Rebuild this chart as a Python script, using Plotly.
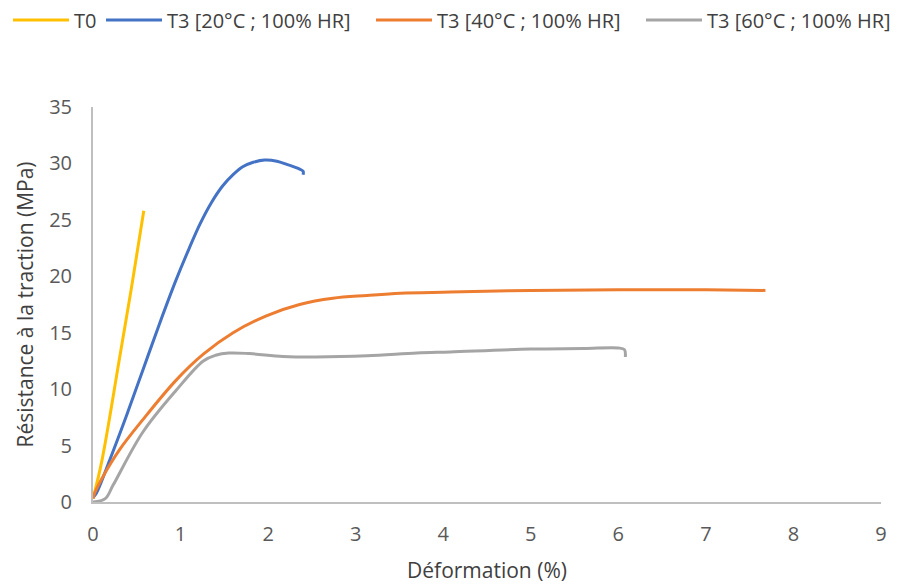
import plotly.graph_objects as go

# Data (strain %, stress MPa)
t0_x = [0.0, 0.1, 0.3, 0.45, 0.58]
t0_y = [0.3, 3.6, 12.6, 19.5, 25.8]

t20_x = [0.0, 0.04, 0.19, 0.38, 0.57, 0.76, 0.95, 1.1, 1.22, 1.35, 1.48, 1.6, 1.71, 1.83, 1.96, 2.1, 2.22, 2.36, 2.4, 2.4]
t20_y = [0.4, 0.8, 3.7, 7.6, 11.7, 15.8, 19.7, 22.5, 24.6, 26.5, 28.0, 29.0, 29.7, 30.1, 30.3, 30.2, 29.9, 29.5, 29.3, 29.0]

t40_x = [0.0, 0.02, 0.11, 0.3, 0.57, 0.95, 1.26, 1.6, 1.98, 2.36, 2.74, 3.13, 3.51, 4.08, 5.0, 6.0, 7.0, 7.68]
t40_y = [0.3, 0.8, 2.2, 4.6, 7.3, 10.8, 13.1, 15.0, 16.5, 17.5, 18.05, 18.3, 18.5, 18.6, 18.75, 18.8, 18.8, 18.75]

t60_x = [0.0, 0.14, 0.23, 0.57, 0.95, 1.26, 1.4, 1.55, 1.79, 2.17, 2.55, 3.13, 3.7, 4.08, 5.0, 5.6, 6.0, 6.07, 6.08]
t60_y = [0.0, 0.3, 1.5, 6.2, 9.9, 12.5, 13.0, 13.2, 13.15, 12.9, 12.85, 12.95, 13.2, 13.3, 13.55, 13.6, 13.65, 13.5, 12.85]

names = ["T0", "T3 [20°C ; 100% HR]", "T3 [40°C ; 100% HR]", "T3 [60°C ; 100% HR]"]
colors = ["#FFC000", "#4472C4", "#ED7D31", "#A5A5A5"]
xs = [t0_x, t20_x, t40_x, t60_x]
ys = [t0_y, t20_y, t40_y, t60_y]

x_ticks = list(range(0, 10))
y_ticks = list(range(0, 40, 5))

FONT = "Open Sans, Liberation Sans, Arial, sans-serif"
W, H = 898, 584
# The page body adds an 8px offset; margins compensate for it.
OFF = 8
ML, MR, MT, MB = 93 - OFF, 17 + OFF, 107 - OFF, 82 + OFF

legend_ids = ["legend", "legend2", "legend3", "legend4"]
legend_line_start = [18, 111, 381, 651]  # page pixels
LEG_Y = 20  # page pixels (legend row centre)

fig = go.Figure()
for n, c, x, y, lid in zip(names, colors, xs, ys, legend_ids):
    fig.add_trace(go.Scatter(x=x, y=y, mode="lines", name=n, legend=lid, showlegend=True,
                             line=dict(color=c, width=3, shape="spline", smoothing=1.0)))

legend_layout = {}
for lid, ls in zip(legend_ids, legend_line_start):
    fx = max(ls - OFF - 10, 0)   # figure px of legend box left
    fy = LEG_Y - OFF             # figure px of legend centre
    legend_layout[lid] = dict(
        orientation="h", xref="container", x=fx / W, xanchor="left",
        yref="container", y=1 - fy / H, yanchor="middle",
        font=dict(size=20, color="#404040"), itemwidth=56,
        bgcolor="rgba(0,0,0,0)", visible=True)

fig.update_layout(
    width=W, height=H, showlegend=True,
    margin=dict(l=ML, r=MR, t=MT, b=MB),
    paper_bgcolor="white", plot_bgcolor="white",
    font=dict(family=FONT, color="#595959", size=20),
    xaxis=dict(range=[0, 9], tickvals=x_ticks, showgrid=False, zeroline=False,
               showline=True, linecolor="#BFBFBF", linewidth=2, ticks="",
               ticklabelstandoff=13, automargin=False,
               title=dict(text="Déformation (%)", font=dict(size=21, color="#404040"), standoff=17)),
    yaxis=dict(range=[0, 35], tickvals=y_ticks, showgrid=False, zeroline=False,
               showline=True, linecolor="#BFBFBF", linewidth=2, ticks="",
               ticklabelstandoff=15, automargin=False,
               title=dict(text="Résistance à la traction (MPa)", font=dict(size=21, color="#404040"), standoff=10)),
    **legend_layout,
)

fig.write_html("out.html")
